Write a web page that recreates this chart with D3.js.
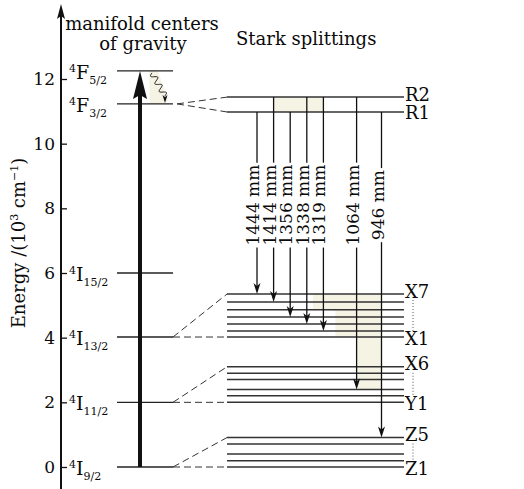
<!DOCTYPE html>
<html lang="en">
<head>
<meta charset="utf-8">
<title>Energy levels</title>
<script src="https://d3js.org/d3.v7.min.js"></script>
<style>
  body { margin: 0; background: #fff; }
  text { font-family: "DejaVu Serif", serif; fill: #0a0a0a; }
</style>
</head>
<body>
<div class="chart"></div>
<script>
// values, energy in 10^3 cm^-1
const energyTicks = [0, 2, 4, 6, 8, 10, 12];

const manifoldTerm = ["F", "F", "I", "I", "I", "I"];
const manifoldJ = ["5/2", "3/2", "15/2", "13/2", "11/2", "9/2"];
const manifoldEnergy = [12.25, 11.23, 6.0, 4.02, 2.0, 0];

// Stark sublevels (lowest first)
const starkR = [10.98, 11.44];
const starkX = [4.02, 4.21, 4.42, 4.64, 4.86, 5.10, 5.35];
const starkY = [2.0, 2.2, 2.4, 2.71, 2.9, 3.1];
const starkZ = [0, 0.19, 0.4, 0.71, 0.91];
const starkGroups = [starkR, starkX, starkY, starkZ];
const starkLabels = [["R1", "R2"], ["X1", "X7"], ["Y1", "X6"], ["Z1", "Z5"]];
const starkParent = [1, 3, 4, 5];   // index into manifold arrays

// emission lines
const lineLabels = ["1444 mm", "1414 mm", "1356 mm", "1338 mm", "1319 mm", "1064 mm", "946 mm"];
const lineFrom = [10.98, 11.44, 10.98, 11.44, 11.44, 11.44, 10.98];
const lineTo = [5.35, 5.10, 4.64, 4.42, 4.21, 2.4, 0.91];

const width = 524, height = 489;
const svg = d3.select(".chart").append("svg")
    .attr("width", width)
    .attr("height", height);

const y = d3.scaleLinear().domain([0, 12]).range([467, 79]);
const axisX = 61;

// slot positions of the emission lines, extra gap when the lower manifold changes
const slot = i => i + (i >= 5 ? 1 : 0) + (i >= 6 ? 0.5 : 0);
const xLine = d3.scaleLinear().domain([0, slot(6)]).range([257, 381.5]);
const xl = i => xLine(slot(i));

const leftA = 117, leftB = 173, starkA = 227, starkB = 404;

// shading
const cream = "#f5f3e3";
svg.append("rect")
    .attr("x", xl(1)).attr("y", y(starkR[1]))
    .attr("width", xl(4) - xl(1)).attr("height", y(starkR[0]) - y(starkR[1]))
    .attr("fill", cream);

svg.append("polygon")
    .attr("points", [
      [xl(3) + 6, y(starkX[6])], [xl(6), y(starkX[6])], [xl(6), y(lineTo[5])],
      [xl(5), y(lineTo[5])], [xl(5), y(starkX[0])], [xl(4) + 12, y(starkX[0])],
      [xl(4) + 12, y(starkX[4])], [xl(3) + 6, y(starkX[4])]
    ].map(p => p.join(",")).join(" "))
    .attr("fill", cream);

svg.append("polygon")
    .attr("points", [[149, y(12.25)], [158, y(12.25)], [168, y(11.23) - 3], [160, y(11.23)], [150, y(11.23)]]
      .map(p => p.join(",")).join(" "))
    .attr("fill", cream);

// energy axis
const yAxis = d3.axisLeft(y).tickValues(energyTicks).tickSize(-6).tickPadding(6);
const gAxis = svg.append("g")
    .attr("transform", `translate(${axisX},0)`)
    .call(yAxis);
gAxis.select(".domain").remove();
gAxis.selectAll(".tick line").attr("stroke", "#111").attr("stroke-width", 1.3);
gAxis.selectAll(".tick text")
    .style("font-family", "DejaVu Serif")
    .style("font-size", "17px")
    .attr("fill", "#0a0a0a");

svg.append("line")
    .attr("x1", axisX).attr("x2", axisX)
    .attr("y1", height).attr("y2", 16)
    .attr("stroke", "#111").attr("stroke-width", 2);
svg.append("path")
    .attr("d", `M${axisX},4 L${axisX - 4},19 L${axisX},16 L${axisX + 4},19 Z`)
    .attr("fill", "#111");

svg.append("text")
    .attr("transform", `translate(25,243) rotate(-90)`)
    .attr("text-anchor", "middle")
    .style("font-size", "18px")
    .call(t => {
      t.append("tspan").text("Energy /(10");
      t.append("tspan").attr("dy", -7).style("font-size", "11px").text("3");
      t.append("tspan").attr("dy", 7).text(" cm");
      t.append("tspan").attr("dy", -7).style("font-size", "11px").text("\u22121");
      t.append("tspan").attr("dy", 7).text(")");
    });

// titles
svg.append("text").attr("x", 142).attr("y", 30).attr("text-anchor", "middle")
    .style("font-size", "18px").text("manifold centers");
svg.append("text").attr("x", 143).attr("y", 50).attr("text-anchor", "middle")
    .style("font-size", "18px").text("of gravity");
svg.append("text").attr("x", 236).attr("y", 45)
    .style("font-size", "18px").text("Stark splittings");

// manifold centres
manifoldEnergy.forEach((e, i) => {
  svg.append("line")
      .attr("x1", leftA).attr("x2", leftB)
      .attr("y1", y(e)).attr("y2", y(e))
      .attr("stroke", "#222").attr("stroke-width", 1.3);
  const t = svg.append("text")
      .attr("x", 69).attr("y", y(e) + 8)
      .style("font-size", "19px");
  t.append("tspan").attr("dy", -7).style("font-size", "11px").text("4");
  t.append("tspan").attr("dy", 7).text(manifoldTerm[i]);
  t.append("tspan").attr("dy", 5).style("font-size", "11px").text(manifoldJ[i]);
});

// pump arrow
const pumpX = 140;
const pumpTop = y(manifoldEnergy[0]);
svg.append("line")
    .attr("x1", pumpX).attr("x2", pumpX)
    .attr("y1", y(0)).attr("y2", pumpTop + 20)
    .attr("stroke", "#111").attr("stroke-width", 4);
svg.append("path")
    .attr("d", `M${pumpX},${pumpTop} L${pumpX - 7},${pumpTop + 28} L${pumpX},${pumpTop + 24} L${pumpX + 7},${pumpTop + 28} Z`)
    .attr("fill", "#111");

// wavy non-radiative relaxation
const w0 = [152, y(manifoldEnergy[0]) + 2], w1 = [165, y(manifoldEnergy[1]) - 8];
const dx = w1[0] - w0[0], dy = w1[1] - w0[1], len = Math.hypot(dx, dy);
const wavePts = d3.range(0, 1.0001, 0.02).map(t => {
  const off = 3 * Math.sin(t * Math.PI * 2 * 3);
  return [w0[0] + dx * t - dy / len * off, w0[1] + dy * t + dx / len * off];
});
svg.append("path")
    .attr("d", d3.line().curve(d3.curveBasis)(wavePts))
    .attr("fill", "none").attr("stroke", "#222").attr("stroke-width", 1);
svg.append("path")
    .attr("d", `M${w1[0]},${y(manifoldEnergy[1]) - 1} L${w1[0] - 2.5},${w1[1] - 1} L${w1[0]},${w1[1] + 1} L${w1[0] + 2.5},${w1[1] - 1} Z`)
    .attr("fill", "#111");

// Stark levels and connectors
starkGroups.forEach((g, gi) => {
  const pe = manifoldEnergy[starkParent[gi]];
  const x0 = gi === 0 ? leftB + 4 : leftB;
  const lo = g[0], hi = g[g.length - 1];
  [lo, hi].forEach(e => {
    svg.append("line")
        .attr("x1", x0).attr("y1", y(pe))
        .attr("x2", starkA).attr("y2", y(e))
        .attr("stroke", "#333").attr("stroke-width", 1)
        .attr("stroke-dasharray", "7,4");
  });
  g.forEach(e => {
    svg.append("line")
        .attr("x1", starkA).attr("x2", starkB)
        .attr("y1", y(e)).attr("y2", y(e))
        .attr("stroke", "#333").attr("stroke-width", 1.5);
  });
  svg.append("text").attr("x", starkB + 1).attr("y", y(hi) - 3)
      .attr("dominant-baseline", "central")
      .style("font-size", "18px").text(starkLabels[gi][1]);
  svg.append("text").attr("x", starkB + 1).attr("y", y(lo) + 1)
      .attr("dominant-baseline", "central")
      .style("font-size", "18px").text(starkLabels[gi][0]);
  if (gi > 0) {
    svg.append("line")
        .attr("x1", starkB + 9).attr("x2", starkB + 9)
        .attr("y1", y(hi) + 6).attr("y2", y(lo) - 6)
        .attr("stroke", "#555").attr("stroke-width", 1)
        .attr("stroke-dasharray", "1,2");
  }
});

// emission lines
const labelY = y(8.1);
lineLabels.forEach((lab, i) => {
  const x = xl(i);
  const t = svg.append("text")
      .attr("transform", `translate(${x + 2},${labelY}) rotate(-90)`)
      .attr("text-anchor", "middle")
      .style("font-size", "17px")
      .text(lab);
  const L = t.node().getComputedTextLength();
  const top = y(lineFrom[i]), tip = y(lineTo[i]);
  svg.append("line")
      .attr("x1", x).attr("x2", x)
      .attr("y1", top).attr("y2", labelY - L / 2 - 2)
      .attr("stroke", "#111").attr("stroke-width", 1.3);
  svg.append("line")
      .attr("x1", x).attr("x2", x)
      .attr("y1", labelY + L / 2 + 2).attr("y2", tip - 6)
      .attr("stroke", "#111").attr("stroke-width", 1.3);
  svg.append("path")
      .attr("d", `M${x},${tip} L${x - 3.5},${tip - 11} L${x},${tip - 8} L${x + 3.5},${tip - 11} Z`)
      .attr("fill", "#111");
});
</script>
</body>
</html>
